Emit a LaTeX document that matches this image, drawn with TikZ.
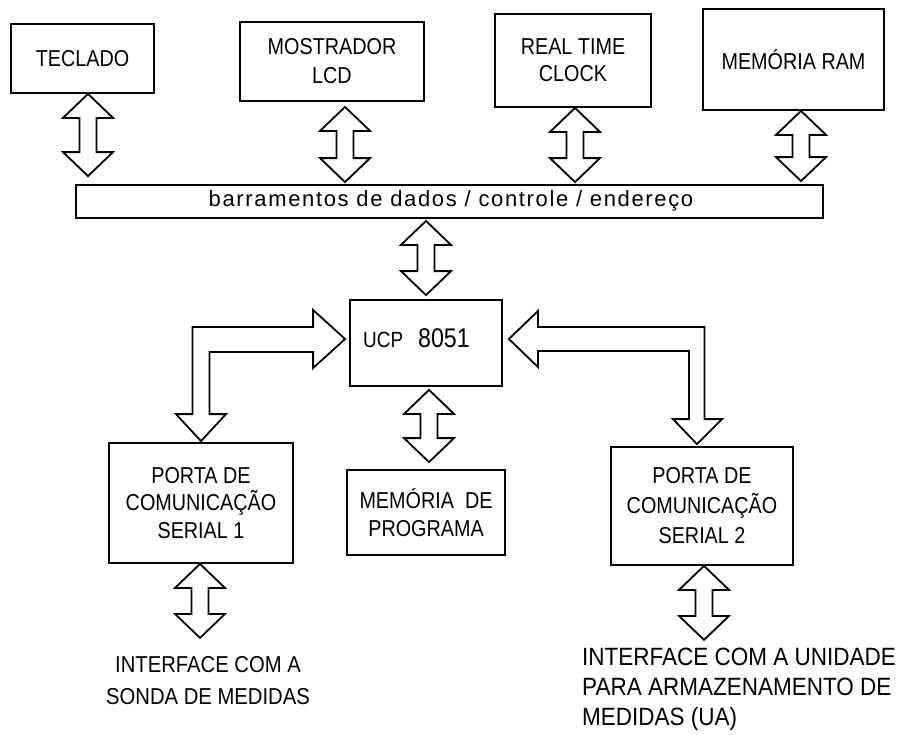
\documentclass[tikz,border=0pt]{standalone}
\usepackage{fontspec}
\setmainfont{Liberation Sans}
\usetikzlibrary{calc}
\tikzset{
  blk/.style={draw, line width=1.8pt, align=center, inner sep=0pt},
  fat/.style={draw, line width=1.8pt, line join=miter, fill=white},
  txt/.style={inner sep=0pt, align=center},
}
\newcommand{\fz}[3]{\fontsize{#1}{#2}\selectfont\addfontfeature{FakeStretch=#3}}
% double-headed fat vertical arrow between two named coordinates (same x)
\newcommand{\dblarr}[2]{%
  \draw[fat] let \p1=(#1), \p2=(#2) in
    (\x1,\y1) -- (\x1+25pt,\y1-24pt) -- (\x1+8.5pt,\y1-24pt) -- (\x1+8.5pt,\y2+24pt)
    -- (\x1+25pt,\y2+24pt) -- (\x1,\y2) -- (\x1-25pt,\y2+24pt) -- (\x1-8.5pt,\y2+24pt)
    -- (\x1-8.5pt,\y1-24pt) -- (\x1-25pt,\y1-24pt) -- cycle;}
\begin{document}
\begin{tikzpicture}[x=1pt,y=-1pt]
\useasboundingbox (0,0) rectangle (912,734);
\fill[white] (0,0) rectangle (912,734);

% top boxes
\node[blk, minimum width=143pt, minimum height=69pt, font=\fz{23}{28}{0.86}] (tecl) at (82.5,58.5) {TECLADO};
\node[blk, minimum width=184pt, minimum height=79pt, font=\fz{23}{29}{0.86}] (lcd) at (332,61.5) {MOSTRADOR\\LCD};
\node[blk, minimum width=156pt, minimum height=93pt, font=\fz{23}{27}{0.86}] (rtc) at (573,60.5) {REAL TIME\\CLOCK};
\node[blk, minimum width=181pt, minimum height=101pt, font=\fz{23}{28}{0.86}] (ram) at (793.5,59.5) {MEMÓRIA RAM};

% bus
\node[blk, minimum width=747pt, minimum height=33pt] (bus) at (449.5,201.5) {};
\node[txt, font=\fontsize{22}{24}\selectfont\addfontfeature{LetterSpace=7.5}] (bustxt) at (451,201) {barramentos de dados / controle / endereço};

% CPU
\node[blk, minimum width=152pt, minimum height=86pt] (ucp) at (426,343) {};
\node[txt] (ucptxt) at (416.5,338) {{\fz{22}{24}{0.86}UCP}\hspace{15pt}{\fz{27}{28}{0.86}8051}};

% program memory
\node[blk, minimum width=158pt, minimum height=85pt, font=\fz{23}{28}{0.86}] (mem) at (426,512.5) {MEMÓRIA\ \ DE\\PROGRAMA};

% serial ports
\node[blk, minimum width=184pt, minimum height=120pt, font=\fz{23}{27.5}{0.86}] (p1) at (201,503) {PORTA DE\\COMUNICAÇÃO\\SERIAL 1};
\node[blk, minimum width=182pt, minimum height=118pt, font=\fz{23}{30}{0.86}] (p2) at (702,506) {PORTA DE\\COMUNICAÇÃO\\SERIAL 2};

% interface labels
\node[txt, font=\fz{23}{32}{0.88}] (if1) at (208,681) {INTERFACE COM A\\SONDA DE MEDIDAS};
\node[txt, align=left, anchor=north west, font=\fz{25}{30}{0.9}] (if2) at (582,648) {INTERFACE COM A UNIDADE\\PARA ARMAZENAMENTO DE\\MEDIDAS (UA)};

% arrow end points
\coordinate (a1t) at ($(tecl.south)+(5.5,0)$);
\coordinate (a1b) at ($(bus.north -| a1t)+(0,-8)$);
\coordinate (a2t) at ($(lcd.south)+(13,5)$);
\coordinate (a2b) at ($(bus.north -| a2t)+(0,-2)$);
\coordinate (a3t) at ($(rtc.south)+(2,0)$);
\coordinate (a3b) at ($(bus.north -| a3t)+(0,-2)$);
\coordinate (a4t) at ($(ram.south)+(7.5,0)$);
\coordinate (a4b) at ($(bus.north -| a4t)+(0,-3)$);
\coordinate (a5t) at ($(bus.south -| ucp.north)+(0,2)$);
\coordinate (a5b) at ($(ucp.north)+(0,-4)$);
\coordinate (a6t) at ($(ucp.south)+(3,3)$);
\coordinate (a6b) at ($(mem.north -| a6t)+(0,-7)$);
\coordinate (a7t) at ($(p1.south)+(-1,0)$);
\coordinate (a7b) at ($(a7t)+(0,74)$);
\coordinate (a8t) at ($(p2.south)+(2,0)$);
\coordinate (a8b) at ($(a8t)+(0,74)$);

\dblarr{a1t}{a1b}
\dblarr{a2t}{a2b}
\dblarr{a3t}{a3b}
\dblarr{a4t}{a4b}
\dblarr{a5t}{a5b}
\dblarr{a6t}{a6b}
\dblarr{a7t}{a7b}
\dblarr{a8t}{a8b}

% bent arrow: UCP <-> serial port 1
\draw[fat] let \p1=($(ucp.west)+(-4,-4)$), \p2=($(p1.north)+(0,-1)$) in
  (\p1) -- (\x1-32pt,\y1+29pt) -- (\x1-32pt,\y1+12pt) -- (\x2-8.5pt,\y1+12pt)
  -- (\x2-8.5pt,\y2+27pt) -- (\x2-25pt,\y2+27pt) -- (\p2) -- (\x2+25pt,\y2+27pt)
  -- (\x2+8.5pt,\y2+27pt) -- (\x2+8.5pt,\y1-13pt) -- (\x1-32pt,\y1-13pt)
  -- (\x1-32pt,\y1-29pt) -- cycle;

% bent arrow: UCP <-> serial port 2
\draw[fat] let \p1=($(ucp.east)+(6,-4)$), \p2=($(p2.north)+(-5,-2)$) in
  (\p1) -- (\x1+29pt,\y1+28pt) -- (\x1+29pt,\y1+12pt) -- (\x2+7.5pt,\y1+12pt)
  -- (\x2+7.5pt,\y2+25pt) -- (\x2+25pt,\y2+25pt) -- (\p2) -- (\x2-24pt,\y2+25pt)
  -- (\x2-8pt,\y2+25pt) -- (\x2-8pt,\y1-12pt) -- (\x1+29pt,\y1-12pt)
  -- (\x1+29pt,\y1-28pt) -- cycle;
\end{tikzpicture}
\end{document}
